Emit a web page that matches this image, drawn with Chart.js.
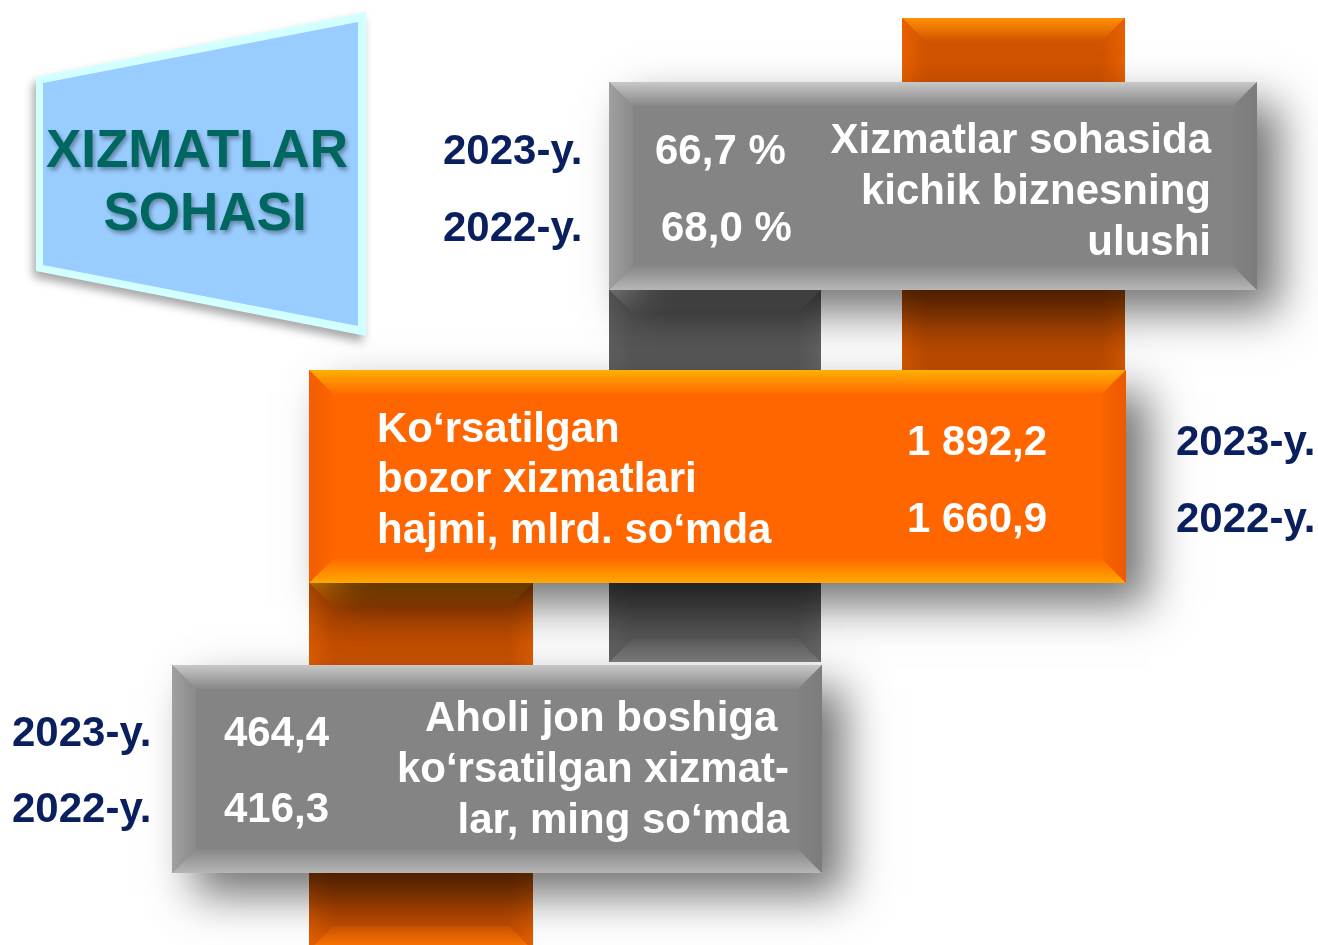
<!DOCTYPE html>
<html>
<head>
<meta charset="utf-8">
<title>Xizmatlar sohasi</title>
<script src="https://cdn.jsdelivr.net/npm/chart.js@4"></script>
<style>
  html, body { margin: 0; padding: 0; background: #fff; overflow: hidden; }
  #board { display: block; }
</style>
</head>
<body>
<canvas id="board" width="1318" height="945"></canvas>
<script>
// ma'lumotlar
const years = ['2023-y.', '2022-y.'];
const shareValues = [66.7, 68.0];          // kichik biznes ulushi, %
const marketValues = [1892.2, 1660.9];     // bozor xizmatlari, mlrd. so'm
const perCapitaValues = [464.4, 416.3];    // aholi jon boshiga, ming so'm
const titleLines = ['XIZMATLAR', 'SOHASI'];
const shareLabel = ['Xizmatlar sohasida', 'kichik biznesning', 'ulushi'];
const marketLabel = ['Ko‘rsatilgan', 'bozor xizmatlari', 'hajmi, mlrd. so‘mda'];
const perCapitaLabel = ['Aholi jon boshiga ', 'ko‘rsatilgan xizmat-', 'lar, ming so‘mda'];

// joylashuv (sahifa birliklarida)
const W = 1318, H = 945;
const FONT = '"Liberation Sans", Arial, sans-serif';
const NAVY = '#0a1f5e';

const fmt = v => {
    const [i, d] = v.toFixed(1).split('.');
    return i.replace(/\B(?=(\d{3})+(?!\d))/g, ' ') + ',' + d;
};

const boxes = {
    share:  { x0: 609, y0: 82,  x1: 1257, y1: 290 },
    market: { x0: 309, y0: 370, x1: 1126, y1: 583 },
    capita: { x0: 172, y0: 665, x1: 822,  y1: 873 }
};
// ustunlar qutilar ortidan o'tadi
const columns = {
    topOrange:    { x0: 902, y0: 18,  x1: 1125, y1: 400 },
    grey:         { x0: 609, y0: 290, x1: 821,  y1: 662 },
    bottomOrange: { x0: 309, y0: 583, x1: 533,  y1: 950 }
};

const greyBevel = {
    base: '#848484',
    top: ['#c8c8c8', '#888888'], bottom: ['#b6b6b6', '#878787'],
    left: ['#a0a0a0', '#8a8a8a'], right: ['#7c7c7c', '#828282']
};
const orangeBevel = {
    base: '#ff6600',
    top: ['#ffb000', '#ff6a00'], bottom: ['#ffa800', '#ff6c00'],
    left: ['#f25e00', '#fc6500'], right: ['#ec5a00', '#f96300']
};
const orangeCol = {
    base: '#d15300',
    top: ['#ff9000', '#d15300'], bottom: ['#ff7800', '#e05c00'],
    left: ['#e86000', '#d15300'], right: ['#e86000', '#d15300']
};
const greyCol = {
    base: '#5e5e5e',
    top: ['#8a8a8a', '#5e5e5e'], bottom: ['#808080', '#626262'],
    left: ['#666', '#5e5e5e'], right: ['#6a6a6a', '#5e5e5e']
};

const infographic = {
    id: 'infographic',
    afterDraw(chart) {
        const ctx = chart.ctx;
        const xs = chart.scales.x, ys = chart.scales.y;
        const X = v => xs.getPixelForValue(v);
        const Y = v => ys.getPixelForValue(v);

        const poly = pts => {
            ctx.beginPath();
            pts.forEach((p, i) => i ? ctx.lineTo(X(p[0]), Y(p[1])) : ctx.moveTo(X(p[0]), Y(p[1])));
            ctx.closePath();
        };

        const bevel = (r, b, c, shadow) => {
            const x0 = X(r.x0), x1 = X(r.x1), y0 = Y(r.y0), y1 = Y(r.y1);
            ctx.save();
            if (shadow) {
                ctx.shadowColor = 'rgba(0,0,0,0.55)';
                ctx.shadowBlur = 42;
                ctx.shadowOffsetX = 22;
                ctx.shadowOffsetY = 22;
            }
            ctx.fillStyle = c.base;
            ctx.fillRect(x0, y0, x1 - x0, y1 - y0);
            ctx.restore();
            const side = (pts, g0, g1, cols) => {
                const g = ctx.createLinearGradient(g0[0], g0[1], g1[0], g1[1]);
                g.addColorStop(0, cols[0]);
                g.addColorStop(1, cols[1]);
                ctx.fillStyle = g;
                ctx.beginPath();
                pts.forEach((p, i) => i ? ctx.lineTo(p[0], p[1]) : ctx.moveTo(p[0], p[1]));
                ctx.closePath();
                ctx.fill();
            };
            side([[x0, y0], [x1, y0], [x1 - b, y0 + b], [x0 + b, y0 + b]], [0, y0], [0, y0 + b], c.top);
            side([[x0, y1], [x1, y1], [x1 - b, y1 - b], [x0 + b, y1 - b]], [0, y1], [0, y1 - b], c.bottom);
            side([[x0, y0], [x0 + b, y0 + b], [x0 + b, y1 - b], [x0, y1]], [x0, 0], [x0 + b, 0], c.left);
            side([[x1, y0], [x1 - b, y0 + b], [x1 - b, y1 - b], [x1, y1]], [x1, 0], [x1 - b, 0], c.right);
        };

        const shade = (x0, y0, x1, y1, a0, a1) => {
            const g = ctx.createLinearGradient(0, Y(y0), 0, Y(y1));
            g.addColorStop(0, `rgba(0,0,0,${a0})`);
            g.addColorStop(1, `rgba(0,0,0,${a1})`);
            ctx.fillStyle = g;
            ctx.fillRect(X(x0), Y(y0), X(x1) - X(x0), Y(y1) - Y(y0));
        };

        const text = (str, x, y, size, color, align) => {
            ctx.font = `bold ${size}px ${FONT}`;
            ctx.fillStyle = color;
            ctx.textAlign = align || 'left';
            ctx.textBaseline = 'alphabetic';
            ctx.fillText(str, X(x), Y(y));
        };

        // sarlavha paneli
        ctx.save();
        ctx.shadowColor = 'rgba(0,0,0,0.35)';
        ctx.shadowBlur = 10;
        ctx.shadowOffsetX = -3;
        ctx.shadowOffsetY = 6;
        ctx.fillStyle = '#d2ffff';
        poly([[36, 77], [366, 12], [366, 336], [36, 271]]);
        ctx.fill();
        ctx.restore();
        ctx.fillStyle = '#99ccff';
        poly([[43, 83], [358, 22], [358, 326], [43, 265]]);
        ctx.fill();
        ctx.save();
        ctx.shadowColor = 'rgba(0,0,0,0.35)';
        ctx.shadowBlur = 4;
        ctx.shadowOffsetX = 2;
        ctx.shadowOffsetY = 3;
        text(titleLines[0], 197, 167, 53, '#006660', 'center');
        text(titleLines[1], 205, 230, 53, '#006660', 'center');
        ctx.restore();

        // ustunlar
        bevel(columns.topOrange, 24, orangeCol, false);
        bevel(columns.grey, 24, greyCol, false);

        // 1-panel
        bevel(boxes.share, 24, greyBevel, true);
        shade(902, 290, 1125, 370, 0.3, 0.05);
        shade(609, 290, 821, 370, 0.15, 0.05);

        bevel(columns.bottomOrange, 24, orangeCol, false);

        // 2-panel
        bevel(boxes.market, 24, orangeBevel, true);
        shade(309, 583, 533, 665, 0.25, 0.0);
        shade(609, 583, 821, 662, 0.3, 0.0);

        // 3-panel
        bevel(boxes.capita, 24, greyBevel, true);
        shade(309, 873, 533, 945, 0.3, 0.0);

        // matnlar: 1-panel
        const shareY = [164, 241];
        const shareX = [655, 661];
        years.forEach((yr, i) => {
            text(yr, 443, shareY[i], 42, NAVY);
            text(fmt(shareValues[i]) + ' %', shareX[i], shareY[i], 42, '#fff');
        });
        [153, 204, 255].forEach((y, i) => text(shareLabel[i], 1211, y, 42, '#fff', 'right'));

        // 2-panel
        [442, 492, 543].forEach((y, i) => text(marketLabel[i], 377, y, 42, '#fff'));
        const marketY = [455, 532];
        years.forEach((yr, i) => {
            text(fmt(marketValues[i]), 907, marketY[i], 42, '#fff');
            text(yr, 1176, marketY[i], 42, NAVY);
        });

        // 3-panel
        const capitaY = [746, 822];
        years.forEach((yr, i) => {
            text(yr, 12, capitaY[i], 42, NAVY);
            text(fmt(perCapitaValues[i]), 224, capitaY[i], 42, '#fff');
        });
        [731, 782, 833].forEach((y, i) => text(perCapitaLabel[i], 789, y, 42, '#fff', 'right'));
    }
};

new Chart(document.getElementById('board'), {
    type: 'scatter',
    data: { datasets: [] },
    options: {
        responsive: false,
        animation: false,
        events: [],
        layout: { padding: 0 },
        plugins: { legend: { display: false }, tooltip: { enabled: false } },
        scales: {
            x: { type: 'linear', min: 0, max: W, display: false },
            y: { type: 'linear', min: 0, max: H, reverse: true, display: false }
        }
    },
    plugins: [infographic]
});
</script>
</body>
</html>
